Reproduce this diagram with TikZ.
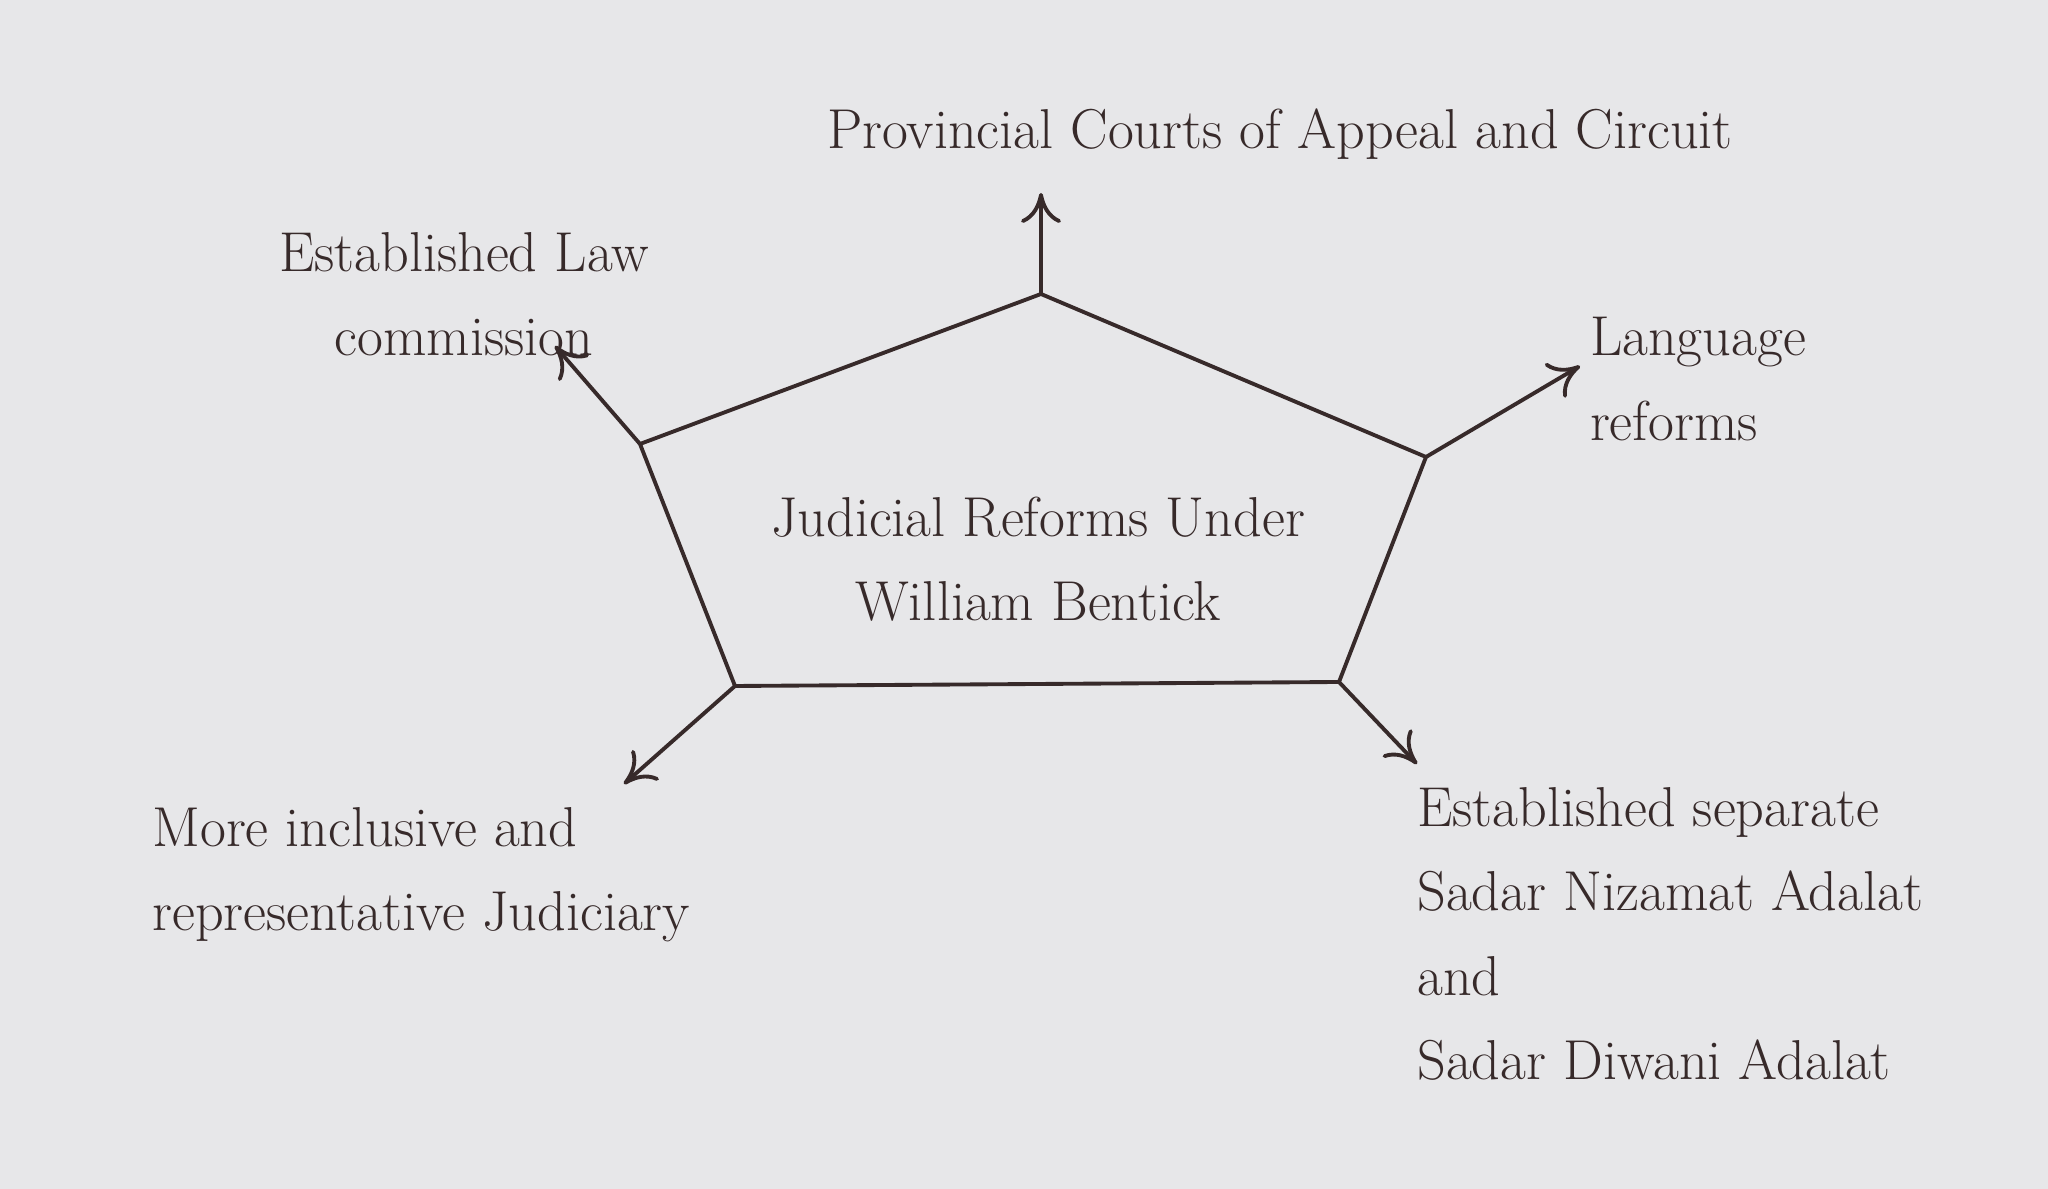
\documentclass[tikz,border=0pt]{standalone}
\usepackage{tikz}
\usetikzlibrary{arrows,arrows.meta,positioning,calc}
\definecolor{paper}{RGB}{231,231,233}
\definecolor{ink}{RGB}{55,42,42}

\begin{document}
\begin{tikzpicture}[x=1cm,y=1cm,
	lbl/.style={text=ink, font=\fontsize{16}{24}\selectfont},
	arr/.style={-{To[length=3mm,width=4mm]}, line width=1.1pt, draw=ink}]
	% paper
	\fill[paper] (0,0) rectangle (20.48,11.89);

	% Pentagon
	\coordinate (top) at (10.41,8.95);
	\coordinate (rgt) at (14.26,7.32);
	\coordinate (br) at (13.39,5.07);
	\coordinate (bl) at (7.35,5.03);
	\coordinate (lft) at (6.40,7.45);
	\draw[line width=1.1pt, draw=ink] (top) -- (rgt) -- (br) -- (bl) -- (lft) -- cycle;
	\node[lbl, align=center] (title) at (10.38,6.30) {Judicial Reforms Under\\William Bentick};

	% Labels
	\node[lbl] (court) at (12.80,10.55) {Provincial Courts of Appeal and Circuit};
	\node[lbl, align=center] (law) at (4.64,8.95) {Established Law\\commission};
	\node[lbl, align=left] (lang) at (16.98,8.10) {Language\\reforms};
	\node[lbl, align=left, anchor=west] (jud) at (1.40,3.14) {More inclusive and\\representative Judiciary};
	\node[lbl, align=left, anchor=west] (adalat) at (14.05,2.55) {Established separate\\Sadar Nizamat Adalat\\and\\Sadar Diwani Adalat};

	% Arrow ends
	\coordinate (topend) at (10.41,9.96);
	\coordinate (lftend) at (5.55,8.43);
	\coordinate (rgtend) at (15.80,8.23);
	\coordinate (blend) at (6.24,4.05);
	\coordinate (brend) at (14.17,4.25);
	\foreach \a/\b in {top/topend, lft/lftend, rgt/rgtend, bl/blend, br/brend} {
		\draw[arr] (\a) -- (\b);
	}
\end{tikzpicture}
\end{document}
